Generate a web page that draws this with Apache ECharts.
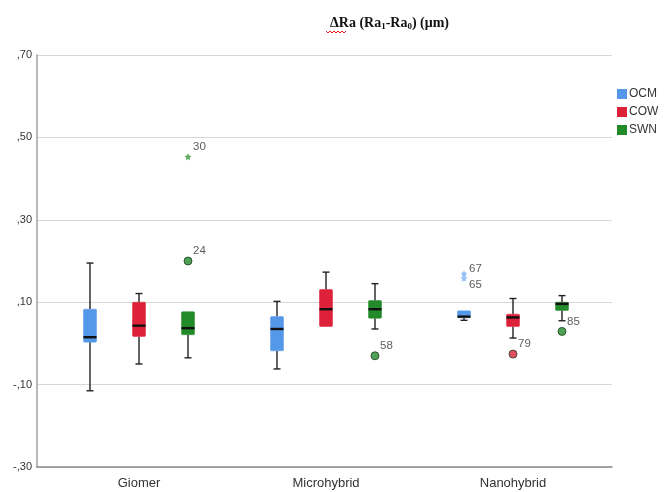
<!DOCTYPE html>
<html><head><meta charset="utf-8">
<script src="https://cdn.jsdelivr.net/npm/echarts@6/dist/echarts.min.js"></script>
<style>html,body{margin:0;padding:0;background:#fff}#c{width:665px;height:492px}</style>
</head><body><div id="c"></div>
<script>
// ---- data ----
const categories = ['Giomer', 'Microhybrid', 'Nanohybrid'];
const yTicks = [-0.3, -0.1, 0.1, 0.3, 0.5, 0.7];
const seriesNames = ['OCM', 'COW', 'SWN'];
// [category index, whisker low, Q1, median, Q3, whisker high]
const ocmBox = [[0, -0.115, 0.003, 0.015, 0.083, 0.195], [1, -0.062, -0.018, 0.035, 0.065, 0.102], [2, 0.056, 0.062, 0.065, 0.079, 0.079]];
const cowBox = [[0, -0.050, 0.017, 0.043, 0.100, 0.121], [1, 0.041, 0.041, 0.083, 0.131, 0.173], [2, 0.013, 0.041, 0.063, 0.071, 0.109]];
const swnBox = [[0, -0.035, 0.021, 0.037, 0.077, 0.077], [1, 0.035, 0.061, 0.083, 0.104, 0.145], [2, 0.055, 0.080, 0.096, 0.100, 0.116]];
// [category index, value, case label, kind]
const ocmOut = [[2, 0.169, '67', 'extreme'], [2, 0.158, '65', 'extreme']];
const cowOut = [[2, -0.026, '79', 'outlier']];
const swnOut = [[0, 0.453, '30', 'extreme'], [0, 0.200, '24', 'outlier'], [1, -0.030, '58', 'outlier'], [2, 0.029, '85', 'outlier']];

// ---- style ----
const colors = ['#5597e8', '#dc2139', '#238a2a'];
const extremeColors = ['#7fb2f2', '#dc2139', '#3a9a3a'];
const offsets = [-49, 0, 49];
const labelOffsets = { '67': [5, -5], '65': [5, 7] };

function boxSeries(name, data, color, dx) {
  return {
    type: 'custom', name: name, xAxisIndex: 1, yAxisIndex: 1,
    itemStyle: { color: color },
    encode: { x: 0, y: [1, 2, 3, 4, 5] },
    data: data,
    renderItem: function (params, api) {
      const c = api.value(0);
      const Y = v => api.coord([c, v])[1];
      const x = api.coord([c, 0])[0] + dx;
      const lo = api.value(1), q1 = api.value(2), md = api.value(3), q3 = api.value(4), hi = api.value(5);
      const yl = Y(lo), y1 = Y(q1), ym = Y(md), y3 = Y(q3), yh = Y(hi);
      const bw = 13, cw = 7;
      const ls = { stroke: '#222', lineWidth: 1.4 };
      const ch = [];
      if (hi > q3) {
        ch.push({ type: 'line', shape: { x1: x, y1: yh, x2: x, y2: y3 }, style: ls });
        ch.push({ type: 'line', shape: { x1: x - cw / 2, y1: yh, x2: x + cw / 2, y2: yh }, style: ls });
      }
      if (lo < q1) {
        ch.push({ type: 'line', shape: { x1: x, y1: y1, x2: x, y2: yl }, style: ls });
        ch.push({ type: 'line', shape: { x1: x - cw / 2, y1: yl, x2: x + cw / 2, y2: yl }, style: ls });
      }
      ch.push({ type: 'rect', shape: { x: x - bw / 2, y: y3, width: bw, height: Math.max(y1 - y3, 1), r: 1 }, style: { fill: color, stroke: color, lineWidth: 0.5 } });
      ch.push({ type: 'line', shape: { x1: x - bw / 2, y1: ym, x2: x + bw / 2, y2: ym }, style: { stroke: '#111', lineWidth: 2.4 } });
      return { type: 'group', children: ch };
    }
  };
}

function outSeries(name, data, idx) {
  return {
    type: 'scatter', name: name, xAxisIndex: 1, yAxisIndex: 1,
    symbolOffset: [offsets[idx], 0],
    data: data.map(d => ({
      value: [d[0], d[1]],
      symbol: d[3] === 'extreme' ? 'path://M0,-10 L2.9,-4 9.5,-3.1 4.7,1.5 5.9,8.1 0,5 -5.9,8.1 -4.7,1.5 -9.5,-3.1 -2.9,-4 Z' : 'circle',
      symbolSize: d[3] === 'extreme' ? 7 : 8,
      itemStyle: d[3] === 'extreme' ? { color: extremeColors[idx] } : { color: colors[idx], borderColor: '#1d3d1d', borderWidth: 1 },
      label: {
        show: true, formatter: d[2], position: 'inside',
        offset: labelOffsets[d[2]] || [5, -10],
        align: 'left', color: '#333', fontSize: 11.5, fontFamily: 'Liberation Sans, Arial'
      }
    })),
    z: 5
  };
}

const chart = echarts.init(document.getElementById('c'), null, { renderer: 'canvas' });
chart.setOption({
  animation: false,
  backgroundColor: '#fff',
  textStyle: { fontFamily: 'Liberation Sans, Arial, sans-serif' },
  title: {
    text: '{b|ΔRa (Ra}{s|1}{b|-Ra}{s|0}{b|) (μm)}',
    left: 325, top: 11,
    textStyle: {
      rich: {
        b: { fontFamily: 'Liberation Serif, Times New Roman, serif', fontWeight: 'bold', fontSize: 14, color: '#111' },
        s: { fontFamily: 'Liberation Serif, Times New Roman, serif', fontWeight: 'bold', fontSize: 9, color: '#111', padding: [6, 0, 0, 0] }
      }
    }
  },
  graphic: [{
    type: 'polyline', shape: { points: [[326, 31], [328, 33], [330, 31], [332, 33], [334, 31], [336, 33], [338, 31], [340, 33], [342, 31], [344, 33], [346, 31]] },
    style: { stroke: '#e02020', lineWidth: 1, fill: null }, silent: true
  }],
  legend: {
    orient: 'vertical', left: 617, top: 88, itemWidth: 10, itemHeight: 10, itemGap: 6, padding: 0,
    icon: 'rect', data: seriesNames,
    textStyle: { fontSize: 12, color: '#333', padding: [0, 0, 0, -3] }
  },
  grid: [
    { left: 37, right: 53, top: 55, bottom: 25 },
    { left: 45.5, right: 58.5, top: 55, bottom: 25 }
  ],
  xAxis: [
    { type: 'category', gridIndex: 0, data: categories, axisLabel: { show: false }, axisTick: { show: false },
      axisLine: { onZero: false, lineStyle: { color: '#8a8a8a', width: 1.5 } }, splitLine: { show: false } },
    { type: 'category', gridIndex: 1, data: categories, axisLine: { show: false }, axisTick: { show: false },
      axisLabel: { fontSize: 13, color: '#333', margin: 10 } }
  ],
  yAxis: [
    { type: 'value', gridIndex: 0, min: yTicks[0], max: yTicks[yTicks.length - 1], interval: 0.2,
      axisLine: { show: true, lineStyle: { color: '#a0a0a0', width: 1.5 } }, axisTick: { show: false },
      splitLine: { lineStyle: { color: '#d8d8d8', width: 1.2 } },
      axisLabel: { fontSize: 11, color: '#333', margin: 5,
        formatter: v => v.toFixed(2).replace(/^(-?)0\./, '$1.').replace('.', ',') } },
    { type: 'value', gridIndex: 1, min: yTicks[0], max: yTicks[yTicks.length - 1], interval: 0.2, show: false }
  ],
  series: [
    boxSeries('OCM', ocmBox, colors[0], offsets[0]),
    boxSeries('COW', cowBox, colors[1], offsets[1]),
    boxSeries('SWN', swnBox, colors[2], offsets[2]),
    outSeries('OCM', ocmOut, 0),
    outSeries('COW', cowOut, 1),
    outSeries('SWN', swnOut, 2)
  ]
});
</script></body></html>
